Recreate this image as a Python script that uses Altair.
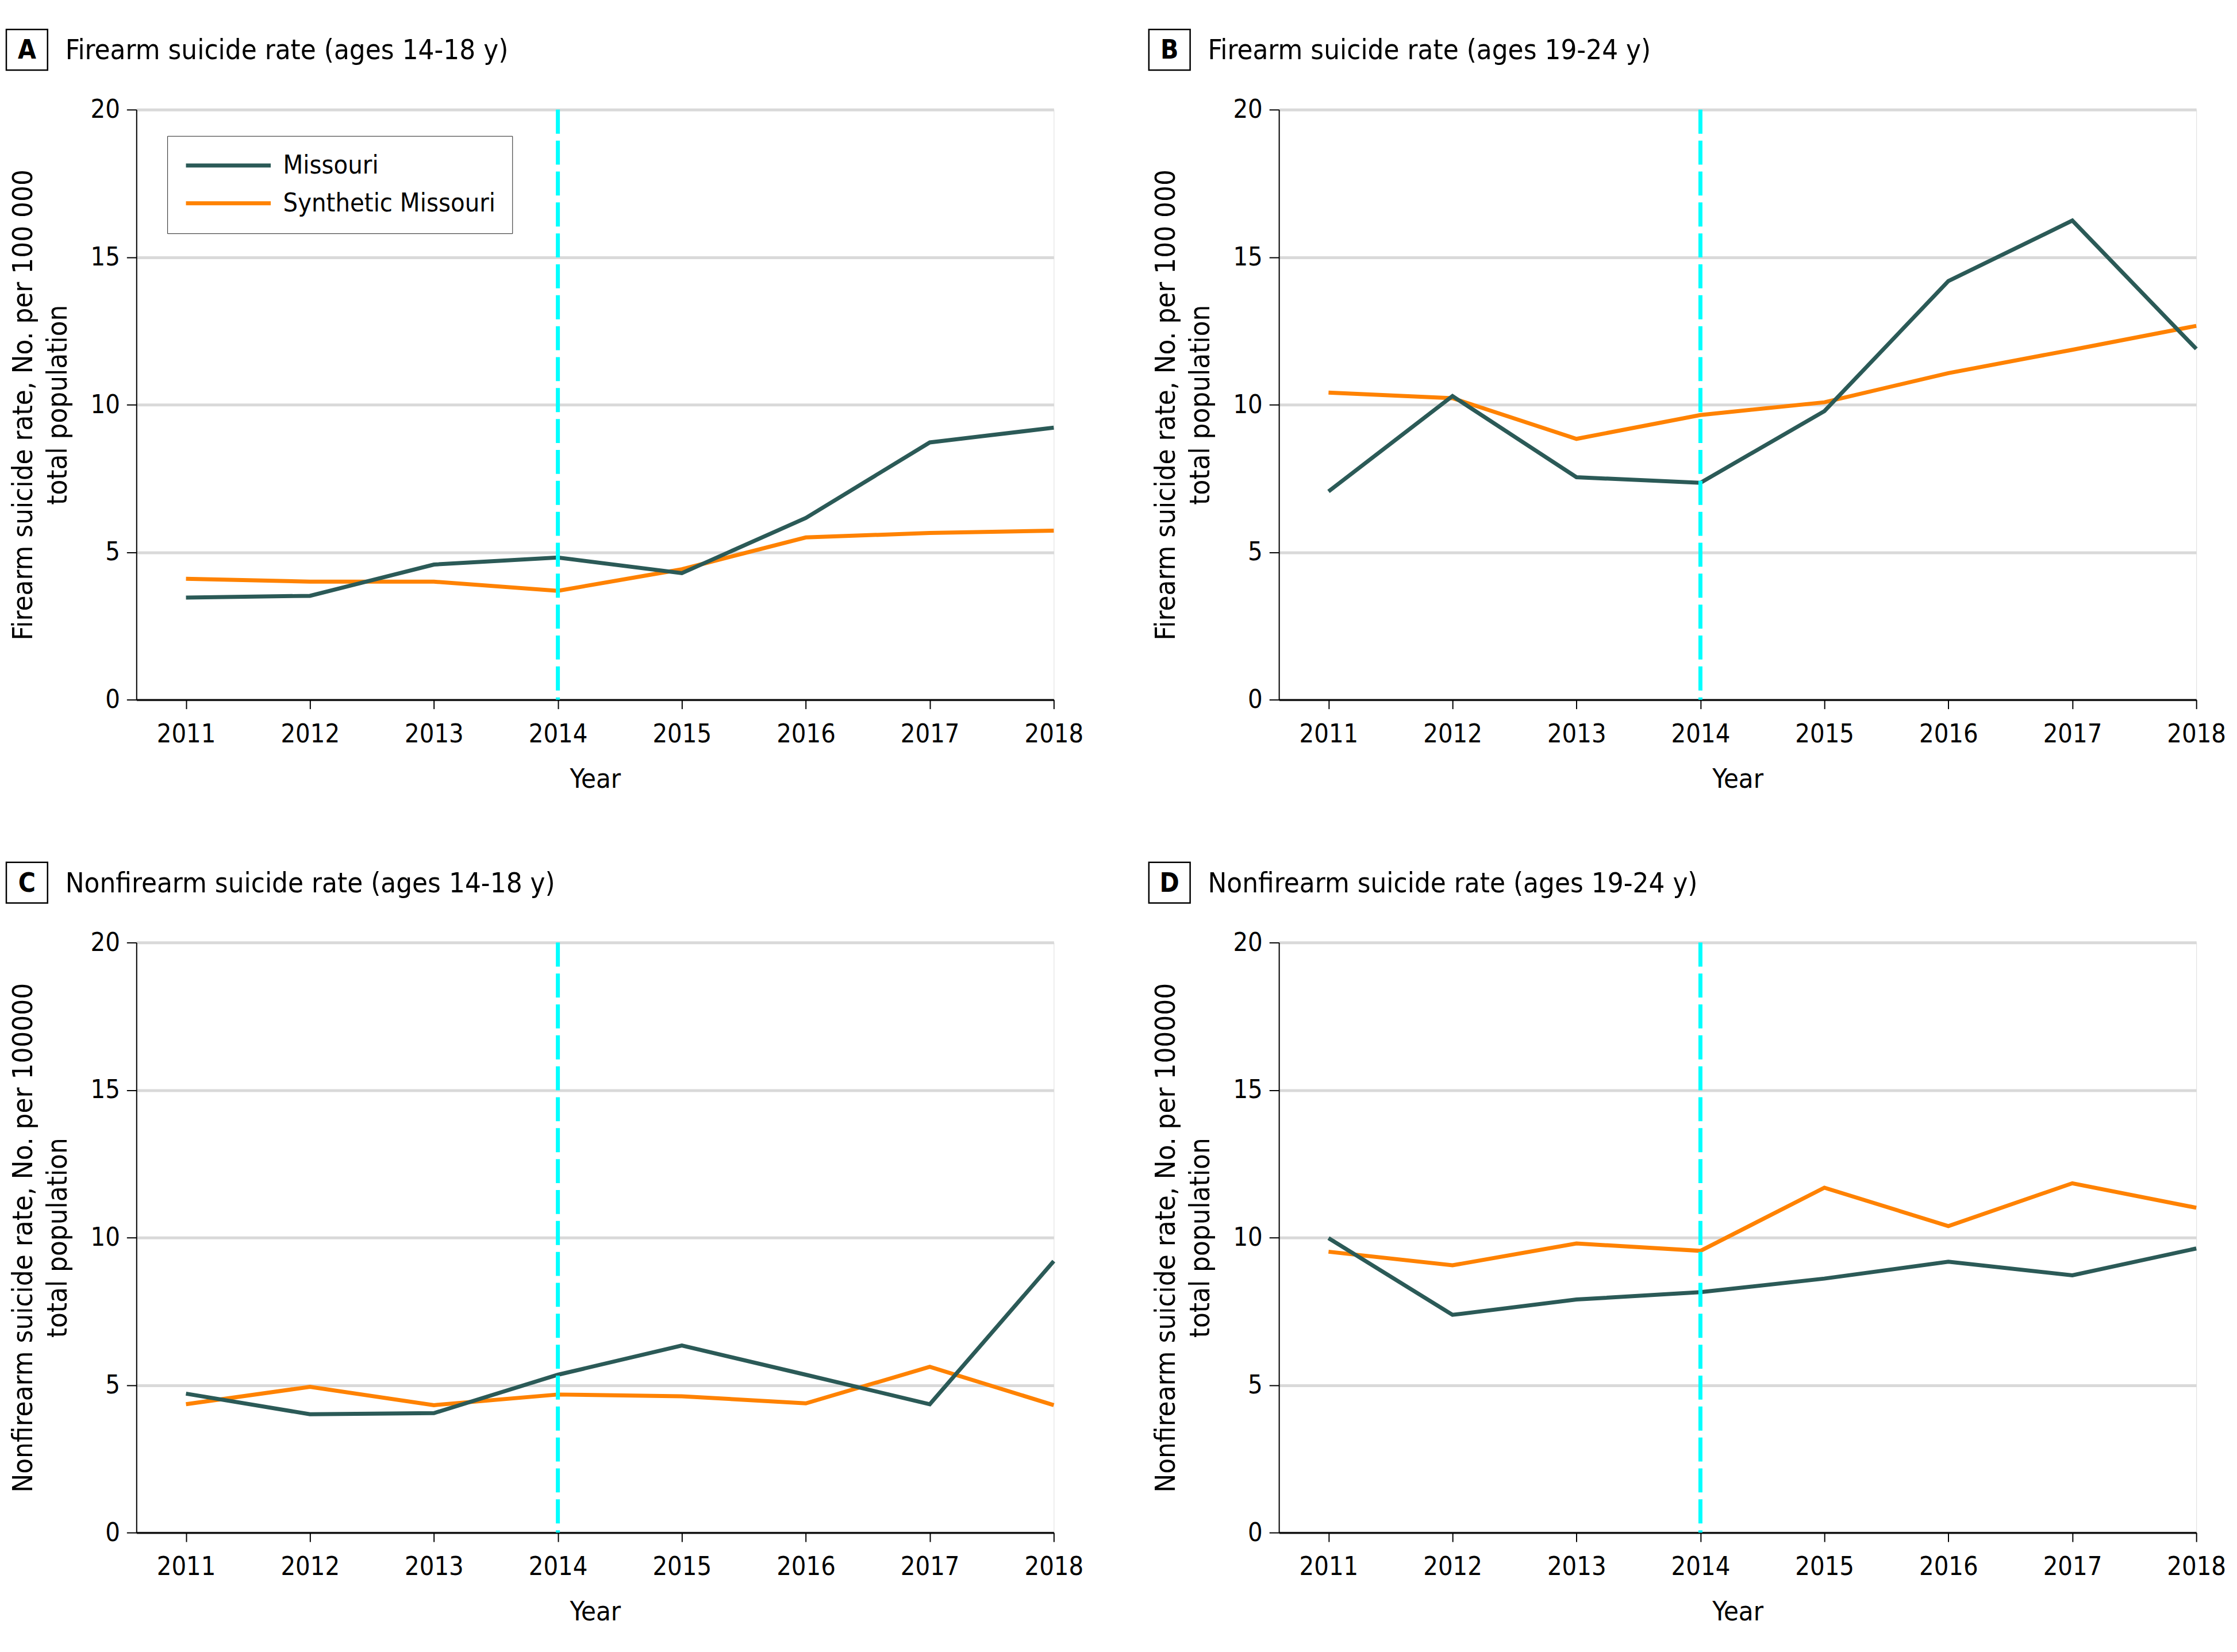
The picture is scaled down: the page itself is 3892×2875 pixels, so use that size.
import altair as alt
import pandas as pd

years = [2011, 2012, 2013, 2014, 2015, 2016, 2017, 2018]
series_names = ["Missouri", "Synthetic Missouri"]
series_colors = ["#2b5a57", "#ff8200"]
intervention_year = [2014]
y_ticks = [0, 5, 10, 15, 20]

a_missouri = [3.46, 3.52, 4.58, 4.82, 4.29, 6.16, 8.72, 9.22]
a_synth = [4.10, 4.00, 4.00, 3.69, 4.42, 5.50, 5.65, 5.73]
b_missouri = [7.06, 10.29, 7.54, 7.35, 9.78, 14.19, 16.24, 11.89]
b_synth = [10.41, 10.22, 8.84, 9.65, 10.08, 11.07, 11.86, 12.67]
c_missouri = [4.71, 4.01, 4.05, 5.35, 6.34, 5.35, 4.35, 9.20]
c_synth = [4.35, 4.94, 4.32, 4.68, 4.62, 4.38, 5.62, 4.32]
d_missouri = [9.98, 7.38, 7.90, 8.15, 8.61, 9.18, 8.72, 9.63]
d_synth = [9.52, 9.06, 9.80, 9.55, 11.69, 10.39, 11.84, 11.01]

panel_letters = ["A", "B", "C", "D"]
panel_titles = [
    "Firearm suicide rate (ages 14-18 y)",
    "Firearm suicide rate (ages 19-24 y)",
    "Nonfirearm suicide rate (ages 14-18 y)",
    "Nonfirearm suicide rate (ages 19-24 y)",
]
y_titles = [
    ["Firearm suicide rate, No. per 100 000", "total population"],
    ["Firearm suicide rate, No. per 100 000", "total population"],
    ["Nonfirearm suicide rate, No. per 100000", "total population"],
    ["Nonfirearm suicide rate, No. per 100000", "total population"],
]

FONT = "DejaVu Sans Condensed, Liberation Sans Narrow, DejaVu Sans, sans-serif"
W, H = 1601, 1030


def panel(letter, title, ytitle, mo, syn, show_legend):
    df = pd.DataFrame({
        "Year": years + years,
        "Rate": mo + syn,
        "Series": [series_names[0]] * len(years) + [series_names[1]] * len(years),
    })
    x = alt.X(
        "Year:Q",
        scale=alt.Scale(domain=[2010.6, 2018], nice=False, zero=False),
        axis=alt.Axis(
            values=years, format="d", grid=False, title="Year",
            domainColor="black", domainWidth=3, tickColor="black", tickWidth=2,
            tickSize=16, labelFontSize=45, labelPadding=22, labelFlush=False,
            labelOverlap=False, labelColor="black", titleColor="black",
            titleFontSize=47, titleFontWeight="normal", titlePadding=33,
            labelFont=FONT, titleFont=FONT,
        ),
    )
    y = alt.Y(
        "Rate:Q",
        scale=alt.Scale(domain=[0, 20], nice=False),
        axis=alt.Axis(
            values=y_ticks, grid=True, gridColor="#d9d9d9", gridWidth=5,
            title=ytitle, domainColor="black", domainWidth=2, tickColor="black",
            tickWidth=2, tickSize=17, labelFontSize=45, labelPadding=12,
            labelColor="black", titleColor="black", titleFontSize=49,
            titleFontWeight="normal", titleLineHeight=60, titlePadding=32,
            labelFont=FONT, titleFont=FONT,
        ),
    )
    if show_legend:
        leg = alt.Legend(
            title=None, orient="none", legendX=54, legendY=46,
            symbolType="stroke", symbolSize=148 * 148, symbolStrokeWidth=7,
            labelFontSize=45, labelFont=FONT, labelColor="black", labelLimit=1000,
            labelOffset=18, rowPadding=20, padding=29, clipHeight=45,
            strokeColor="#222222", fillColor="white",
        )
    else:
        leg = None
    color = alt.Color(
        "Series:N",
        scale=alt.Scale(domain=series_names, range=series_colors),
        legend=leg,
    )
    base = alt.Chart(df)
    syn_line = base.transform_filter(alt.datum.Series == series_names[1]).mark_line(
        strokeWidth=7
    ).encode(x=x, y=y, color=color)
    mo_line = base.transform_filter(alt.datum.Series == series_names[0]).mark_line(
        strokeWidth=7
    ).encode(x=x, y=y, color=color)
    rule = alt.Chart(pd.DataFrame({"Year": intervention_year})).mark_rule(
        color="#00ffff", strokeWidth=7, strokeDash=[42, 12]
    ).encode(x="Year:Q", y=alt.value(0), y2=alt.value(H))
    box = alt.Chart(pd.DataFrame({"k": [0]})).mark_rect(
        fill="white", stroke="black", strokeWidth=2.5
    ).encode(x=alt.value(-227), x2=alt.value(-155), y=alt.value(-140), y2=alt.value(-69))
    letter_txt = alt.Chart(pd.DataFrame({"k": [0]})).mark_text(
        text=letter, font=FONT, fontSize=46, fontWeight="bold", color="black",
        align="center", baseline="middle",
    ).encode(x=alt.value(-191), y=alt.value(-103))
    title_txt = alt.Chart(pd.DataFrame({"k": [0]})).mark_text(
        text=title, font=FONT, fontSize=49, color="black",
        align="left", baseline="middle",
    ).encode(x=alt.value(-124), y=alt.value(-103))
    return alt.layer(syn_line, mo_line, rule, box, letter_txt, title_txt).properties(
        width=W, height=H
    )


panels = []
data_sets = [(a_missouri, a_synth), (b_missouri, b_synth), (c_missouri, c_synth), (d_missouri, d_synth)]
for i in range(4):
    panels.append(panel(panel_letters[i], panel_titles[i], y_titles[i],
                        data_sets[i][0], data_sets[i][1], i == 0))

top = alt.hconcat(panels[0], panels[1], spacing=111)
bottom = alt.hconcat(panels[2], panels[3], spacing=111)
chart = alt.vconcat(top, bottom, spacing=119).resolve_scale(
    color="independent"
).resolve_legend(color="independent").properties(
    padding={"left": 1, "top": 37, "right": 10, "bottom": 10}
).configure_view(stroke=None).configure_legend(strokeWidth=2.5).configure(
    background="white"
)

chart.save("out.html", embed_options={"renderer": "svg", "actions": False})
